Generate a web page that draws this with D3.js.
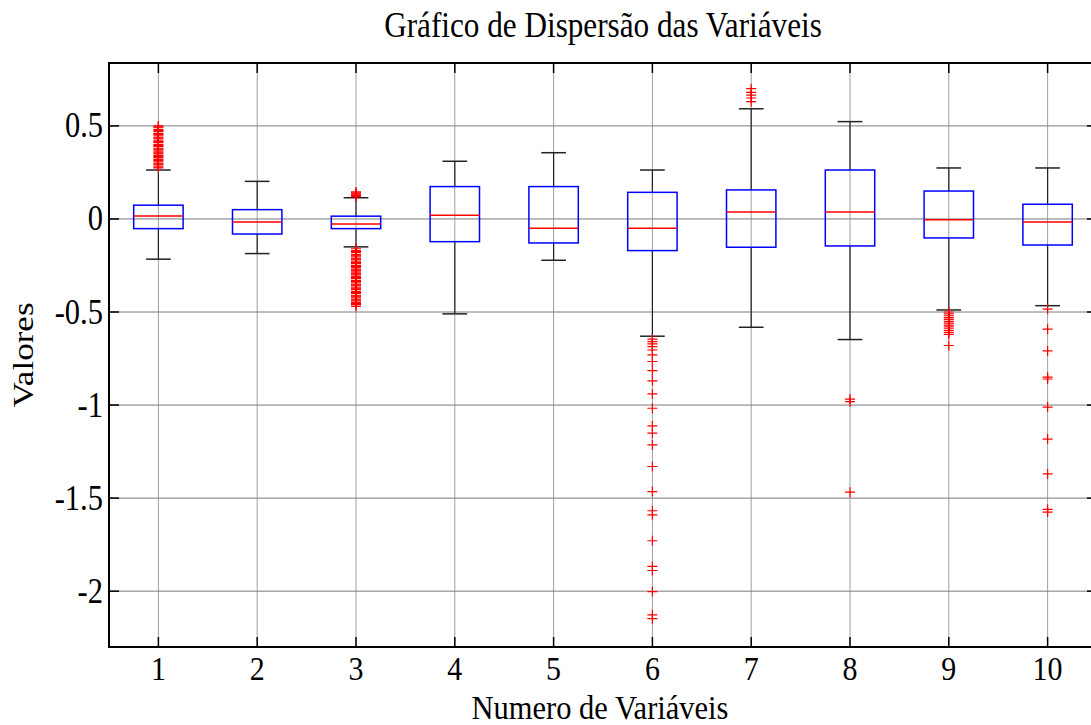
<!DOCTYPE html>
<html>
<head>
<meta charset="utf-8">
<script src="https://cdn.jsdelivr.net/npm/d3@7"></script>
<style>
  html, body { margin: 0; padding: 0; background: #fff; }
  svg { display: block; }
  text { font-family: "Liberation Serif", "Times New Roman", serif; fill: #000; }
</style>
</head>
<body>
<svg id="chart" width="1091" height="725"></svg>
<script>
// ---- Data ----
const categories = ["1","2","3","4","5","6","7","8","9","10"];
const q1Values     = [-0.052, -0.081, -0.052, -0.122, -0.129, -0.170, -0.152, -0.145, -0.102, -0.140];
const medianValues = [ 0.016, -0.016, -0.027,  0.020, -0.050, -0.050,  0.038,  0.038, -0.004, -0.016];
const q3Values     = [ 0.074,  0.050,  0.015,  0.174,  0.174,  0.143,  0.156,  0.263,  0.150,  0.079];
const lowerWhisker = [-0.216, -0.186, -0.150, -0.510, -0.222, -0.630, -0.582, -0.648, -0.489, -0.466];
const upperWhisker = [ 0.263,  0.202,  0.114,  0.310,  0.356,  0.263,  0.592,  0.523,  0.274,  0.274];
const outliers = [
  [0.275,0.28,0.29,0.295,0.30,0.31,0.315,0.32,0.33,0.335,0.34,0.35,0.355,0.36,0.37,0.375,0.38,0.39,0.395,0.40,0.41,0.415,0.42,0.43,0.435,0.44,0.45,0.455,0.46,0.47,0.475,0.48,0.49,0.495,0.50],
  [],
  [0.12,0.125,0.13,0.135,0.14,0.145,
   -0.16,-0.17,-0.175,-0.18,-0.19,-0.195,-0.20,-0.21,-0.215,-0.22,-0.23,-0.235,-0.24,-0.25,-0.255,-0.26,-0.27,-0.275,-0.28,-0.29,-0.295,-0.30,-0.31,-0.315,-0.32,-0.33,-0.335,-0.34,-0.35,-0.355,-0.36,-0.37,-0.375,-0.38,-0.39,-0.395,-0.40,-0.41,-0.415,-0.42,-0.43,-0.435,-0.44,-0.45,-0.455,-0.46,-0.47],
  [],
  [],
  [-0.646,-0.659,-0.671,-0.686,-0.704,-0.730,-0.766,-0.815,-0.870,-0.940,-1.017,-1.112,-1.151,-1.214,-1.330,-1.465,-1.568,-1.590,-1.729,-1.867,-1.889,-2.002,-2.127,-2.148],
  [0.63,0.65,0.665,0.68,0.70],
  [-0.968,-0.981,-1.468],
  [-0.50,-0.51,-0.52,-0.53,-0.54,-0.55,-0.56,-0.57,-0.58,-0.59,-0.60,-0.61,-0.62,-0.68],
  [-0.485,-0.592,-0.709,-0.850,-0.860,-1.011,-1.183,-1.370,-1.560,-1.575]
];
const yTickValues = [0.5, 0, -0.5, -1, -1.5, -2];
const yTickLabels = ["0.5", "0", "-0.5", "-1", "-1.5", "-2"];
const titleText = "Gráfico de Dispersão das Variáveis";
const xLabelText = "Numero de Variáveis";
const yLabelText = "Valores";

// ---- Layout ----
const svg = d3.select("#chart");
const L = 109, R = 1097, T = 63, B = 647;
const SY = 1.17;   // vertical stretch of text seen in the reference

const x = d3.scaleLinear().domain([0.5, 10.5]).range([L, R]);
const y = d3.scaleLinear().domain([-2.3, 0.838]).range([B, T]);

function addText(tx, ty, str, anchor, fs, sy, rot) {
  svg.append("text")
    .attr("transform", `translate(${tx},${ty}) scale(1,${sy})` + (rot ? ` rotate(${rot})` : ""))
    .attr("text-anchor", anchor)
    .attr("font-size", fs)
    .text(str);
}

// grid
const grid = svg.append("g");
categories.forEach((c, i) => {
  grid.append("line")
    .attr("x1", x(i + 1)).attr("x2", x(i + 1))
    .attr("y1", T).attr("y2", B)
    .attr("stroke", "#a0a0a0").attr("stroke-width", 1);
});
yTickValues.forEach(v => {
  grid.append("line")
    .attr("x1", L).attr("x2", R)
    .attr("y1", y(v)).attr("y2", y(v))
    .attr("stroke", "#7a7a7a").attr("stroke-width", 1);
});

// boxes
const boxW = 0.5, capW = 0.25;
const g = svg.append("g");
categories.forEach((c, i) => {
  const cx = i + 1;
  g.append("line").attr("x1", x(cx)).attr("x2", x(cx))
    .attr("y1", y(q3Values[i])).attr("y2", y(upperWhisker[i]))
    .attr("stroke", "#222").attr("stroke-width", 1.2);
  g.append("line").attr("x1", x(cx)).attr("x2", x(cx))
    .attr("y1", y(q1Values[i])).attr("y2", y(lowerWhisker[i]))
    .attr("stroke", "#222").attr("stroke-width", 1.2);
  [upperWhisker[i], lowerWhisker[i]].forEach(v => {
    g.append("line").attr("x1", x(cx - capW / 2)).attr("x2", x(cx + capW / 2))
      .attr("y1", y(v)).attr("y2", y(v))
      .attr("stroke", "#222").attr("stroke-width", 1.5);
  });
  g.append("rect")
    .attr("x", x(cx - boxW / 2)).attr("width", x(cx + boxW / 2) - x(cx - boxW / 2))
    .attr("y", y(q3Values[i])).attr("height", y(q1Values[i]) - y(q3Values[i]))
    .attr("fill", "none").attr("stroke", "#0000ff").attr("stroke-width", 1.5);
  g.append("line").attr("x1", x(cx - boxW / 2)).attr("x2", x(cx + boxW / 2))
    .attr("y1", y(medianValues[i])).attr("y2", y(medianValues[i]))
    .attr("stroke", "#ff0000").attr("stroke-width", 1.5);
  const m = 5;
  outliers[i].forEach(v => {
    const px = x(cx), py = y(v);
    g.append("path")
      .attr("d", `M${px - m},${py}H${px + m}M${px},${py - m}V${py + m}`)
      .attr("stroke", "#ff0000").attr("stroke-width", 1.2).attr("fill", "none");
  });
});

// axes frame and ticks
const ax = svg.append("g");
ax.append("rect").attr("x", L).attr("y", T).attr("width", R - L).attr("height", B - T)
  .attr("fill", "none").attr("stroke", "#000").attr("stroke-width", 2);
const tl = 10;
categories.forEach((c, i) => {
  const px = x(i + 1);
  ax.append("line").attr("x1", px).attr("x2", px).attr("y1", B).attr("y2", B - tl).attr("stroke", "#000").attr("stroke-width", 1.5);
  ax.append("line").attr("x1", px).attr("x2", px).attr("y1", T).attr("y2", T + tl).attr("stroke", "#000").attr("stroke-width", 1.5);
  addText(px, 680, c, "middle", 30, 1.12);
});
yTickValues.forEach((v, i) => {
  const py = y(v);
  ax.append("line").attr("x1", L).attr("x2", L + tl).attr("y1", py).attr("y2", py).attr("stroke", "#000").attr("stroke-width", 1.5);
  ax.append("line").attr("x1", R).attr("x2", R - tl).attr("y1", py).attr("y2", py).attr("stroke", "#000").attr("stroke-width", 1.5);
  addText(103, py + 11.5, yTickLabels[i], "end", 30.5, SY);
});

// labels
addText((L + R) / 2, 37, titleText, "middle", 31.2, SY);
addText(600, 719, xLabelText, "middle", 30.5, 1.08);
addText(33, (T + B) / 2, yLabelText, "middle", 30, SY, -90);
</script>
</body>
</html>
